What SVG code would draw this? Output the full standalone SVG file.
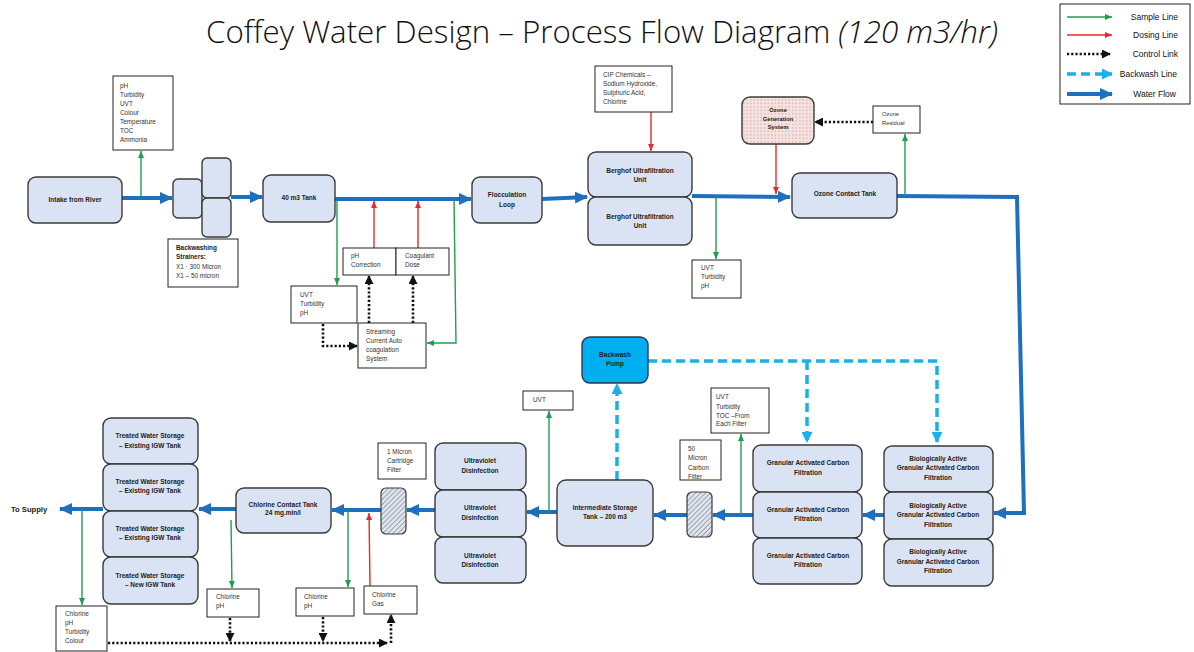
<svg xmlns="http://www.w3.org/2000/svg" width="1194" height="652" viewBox="0 0 1194 652">
<defs>
<style>
.n{fill:#dae3f3;stroke:#3a3a3a;stroke-width:1.4}
.b{fill:#fff;stroke:#222;stroke-width:1}
.t{font-family:"Liberation Sans",Arial,sans-serif;font-size:6.4px;fill:#333}
.tb{font-family:"Liberation Sans",Arial,sans-serif;font-size:6.5px;font-weight:bold;fill:#222;text-anchor:middle}
.lg{font-family:"Liberation Sans",Arial,sans-serif;font-size:8.5px;fill:#111;text-anchor:end}
.wf{fill:none;stroke:#1f6fbf;stroke-width:4}
.sm{fill:none;stroke:#1e9e50;stroke-width:1.4}
.ds{fill:none;stroke:#e52b2b;stroke-width:1.4}
.ct{fill:none;stroke:#111;stroke-width:2.6;stroke-dasharray:2.2 2}
.bw{fill:none;stroke:#1ab0e8;stroke-width:3.5;stroke-dasharray:9 5}
</style>
<marker id="aw" markerUnits="userSpaceOnUse" markerWidth="13" markerHeight="12" refX="12" refY="6" orient="auto"><path d="M0,0 L13,6 L0,12 z" fill="#1f6fbf"/></marker>
<marker id="ag" markerUnits="userSpaceOnUse" markerWidth="7" markerHeight="6" refX="7" refY="3" orient="auto"><path d="M0,0 L7,3 L0,6 z" fill="#1e9e50"/></marker>
<marker id="ar" markerUnits="userSpaceOnUse" markerWidth="7" markerHeight="6" refX="7" refY="3" orient="auto"><path d="M0,0 L7,3 L0,6 z" fill="#e52b2b"/></marker>
<marker id="ak" markerUnits="userSpaceOnUse" markerWidth="9" markerHeight="9" refX="8" refY="4.5" orient="auto"><path d="M0,0 L9,4.5 L0,9 z" fill="#111"/></marker>
<marker id="ab" markerUnits="userSpaceOnUse" markerWidth="11" markerHeight="11" refX="10" refY="5.5" orient="auto"><path d="M0,0 L11,5.5 L0,11 z" fill="#1ab0e8"/></marker>
<pattern id="hatch" patternUnits="userSpaceOnUse" width="3.5" height="3.5" patternTransform="rotate(45)"><rect width="3.5" height="3.5" fill="#dfe5ee"/><line x1="0" y1="0" x2="0" y2="3.5" stroke="#5a6270" stroke-width="1"/></pattern>
<pattern id="dots" patternUnits="userSpaceOnUse" width="3.5" height="3.5"><rect width="3.5" height="3.5" fill="#f6e2e1"/><circle cx="1.75" cy="1.75" r="0.5" fill="#9a5050"/></pattern>
</defs>
<rect width="1194" height="652" fill="#fff"/>

<text x="206" y="43" font-family="'Open Sans','Liberation Sans',sans-serif" font-size="30.5" fill="#111" font-weight="300" textLength="792" lengthAdjust="spacingAndGlyphs">Coffey Water Design – Process Flow Diagram <tspan font-style="italic">(120 m3/hr)</tspan></text>

<g id="legend">
<rect x="1060" y="4" width="130" height="100" class="b"/>
<path d="M1067,17 L1112,17" class="sm" marker-end="url(#ag)"/>
<path d="M1067,35 L1112,35" class="ds" marker-end="url(#ar)"/>
<path d="M1067,54 L1110,54" class="ct" marker-end="url(#ak)"/>
<path d="M1067,74 L1112,74" class="bw" marker-end="url(#ab)"/>
<path d="M1067,94 L1112,94" class="wf" marker-end="url(#aw)"/>
<text x="1178" y="20" class="lg">Sample Line</text>
<text x="1178" y="38" class="lg">Dosing Line</text>
<text x="1178" y="57" class="lg">Control Link</text>
<text x="1177" y="77" class="lg">Backwash Line</text>
<text x="1176" y="97" class="lg">Water Flow</text>
</g>

<g id="connectors">
<path d="M122,198 L172,198" class="wf" marker-end="url(#aw)"/>
<path d="M231,197 L262,197" class="wf" marker-end="url(#aw)"/>
<path d="M335,199 L471,199" class="wf" marker-end="url(#aw)"/>
<path d="M542,199 L587,197" class="wf" marker-end="url(#aw)"/>
<path d="M692,196 L790,197" class="wf" marker-end="url(#aw)"/>
<path d="M897,196 L1017,197 L1024,513 L994,513" class="wf" marker-end="url(#aw)"/>
<path d="M884,515 L863,515" class="wf" marker-end="url(#aw)"/>
<path d="M753,515 L713,515" class="wf" marker-end="url(#aw)"/>
<path d="M687,515 L654,515" class="wf" marker-end="url(#aw)"/>
<path d="M557,512 L527,512" class="wf" marker-end="url(#aw)"/>
<path d="M435,510 L407,510" class="wf" marker-end="url(#aw)"/>
<path d="M381,510 L332,510" class="wf" marker-end="url(#aw)"/>
<path d="M236,509 L199,509" class="wf" marker-end="url(#aw)"/>
<path d="M103,509 L60,509" class="wf" marker-end="url(#aw)"/>

<path d="M141,198 L141,151" class="sm" marker-end="url(#ag)"/>
<path d="M337,200 L337,285" class="sm" marker-end="url(#ag)"/>
<path d="M454,199 L456,343 L427,343" class="sm" marker-end="url(#ag)"/>
<path d="M716,196 L716,259" class="sm" marker-end="url(#ag)"/>
<path d="M905,196 L905,134" class="sm" marker-end="url(#ag)"/>
<path d="M741,515 L741,434" class="sm" marker-end="url(#ag)"/>
<path d="M549,512 L549,411" class="sm" marker-end="url(#ag)"/>
<path d="M348,510 L348,587" class="sm" marker-end="url(#ag)"/>
<path d="M231,520 L232,588" class="sm" marker-end="url(#ag)"/>
<path d="M82,509 L82,605" class="sm" marker-end="url(#ag)"/>

<path d="M374,248 L374,201" class="ds" marker-end="url(#ar)"/>
<path d="M418,248 L418,201" class="ds" marker-end="url(#ar)"/>
<path d="M651,112 L651,151" class="ds" marker-end="url(#ar)"/>
<path d="M776,144 L776,194" class="ds" marker-end="url(#ar)"/>
<path d="M370,586 L369,513" class="ds" marker-end="url(#ar)"/>

<path d="M369,323 L369,276" class="ct" marker-end="url(#ak)"/>
<path d="M413,323 L413,276" class="ct" marker-end="url(#ak)"/>
<path d="M323,324 L323,346 L357,346" class="ct" marker-end="url(#ak)"/>
<path d="M873,122 L815,122" class="ct" marker-end="url(#ak)"/>
<path d="M230,618 L230,641" class="ct" marker-end="url(#ak)"/>
<path d="M323,617 L323,641" class="ct" marker-end="url(#ak)"/>
<path d="M108,643 L387,643" class="ct" marker-end="url(#ak)"/>
<path d="M391,643 L391,615" class="ct" marker-end="url(#ak)"/>

<path d="M617,480 L617,384" class="bw" marker-end="url(#ab)"/>
<path d="M648,361 L937,361 L937,442" class="bw" marker-end="url(#ab)"/>
<path d="M807,361 L807,442" class="bw" marker-end="url(#ab)"/>
</g>

<g id="intake"><rect x="28" y="177" width="94" height="46" rx="8" class="n"/><text x="75" y="202" class="tb">Intake from River</text></g>
<g id="sample-intake"><rect x="113" y="76" width="60" height="74" class="b"/>
<text class="t"><tspan x="120" y="88">pH</tspan><tspan x="120" y="97">Turbidity</tspan><tspan x="120" y="106">UVT</tspan><tspan x="120" y="115">Colour</tspan><tspan x="120" y="124">Temperature</tspan><tspan x="120" y="133">TOC</tspan><tspan x="120" y="142">Ammonia</tspan></text></g>
<g id="strainers">
<rect x="173" y="179" width="29" height="39" rx="5" class="n"/>
<rect x="202" y="158" width="29" height="40" rx="5" class="n"/>
<rect x="202" y="198" width="29" height="39" rx="5" class="n"/>
</g>
<g id="strainer-label"><rect x="168" y="239" width="70" height="48" class="b"/>
<text class="t"><tspan x="176" y="250" font-weight="bold" fill="#222">Backwashing</tspan><tspan x="176" y="259" font-weight="bold" fill="#222">Strainers:</tspan><tspan x="176" y="269">X1 · 300 Micron</tspan><tspan x="176" y="278">X1 – 50 micron</tspan></text></g>

<g id="tank40"><rect x="263" y="175" width="72" height="47" rx="8" class="n"/><text x="299" y="200" class="tb">40 m3 Tank</text></g>
<g id="sample-40"><rect x="291" y="286" width="66" height="37" class="b"/>
<text class="t"><tspan x="300" y="297">UVT</tspan><tspan x="300" y="306">Turbidity</tspan><tspan x="300" y="315">pH</tspan></text></g>
<g id="ph-correction"><rect x="343" y="248" width="53" height="27" class="b"/>
<text class="t"><tspan x="351" y="258">pH</tspan><tspan x="351" y="267">Correction</tspan></text></g>
<g id="coagulant"><rect x="396" y="248" width="53" height="27" class="b"/>
<text class="t"><tspan x="405" y="258">Coagulant</tspan><tspan x="405" y="267">Dose</tspan></text></g>
<g id="streaming"><rect x="358" y="323" width="68" height="45" class="b"/>
<text class="t"><tspan x="366" y="334">Streaming</tspan><tspan x="366" y="343">Current Auto</tspan><tspan x="366" y="352">coagulation</tspan><tspan x="366" y="361">System</tspan></text></g>

<g id="flocculation"><rect x="472" y="177" width="70" height="46" rx="8" class="n"/>
<text class="tb"><tspan x="507" y="197">Flocculation</tspan><tspan x="507" y="207">Loop</tspan></text></g>
<g id="berghof1"><rect x="588" y="152" width="104" height="45" rx="8" class="n"/>
<text class="tb"><tspan x="640" y="173">Berghof Ultrafiltration</tspan><tspan x="640" y="182">Unit</tspan></text></g>
<g id="berghof2"><rect x="588" y="197" width="104" height="48" rx="8" class="n"/>
<text class="tb"><tspan x="640" y="219">Berghof Ultrafiltration</tspan><tspan x="640" y="228">Unit</tspan></text></g>
<g id="cip"><rect x="595" y="66" width="77" height="46" class="b"/>
<text class="t"><tspan x="603" y="77">CIP Chemicals –</tspan><tspan x="603" y="86">Sodium Hydroxide,</tspan><tspan x="603" y="95">Sulphuric Acid,</tspan><tspan x="603" y="104">Chlorine</tspan></text></g>
<g id="sample-uf"><rect x="692" y="260" width="49" height="38" class="b"/>
<text class="t"><tspan x="701" y="270">UVT</tspan><tspan x="701" y="279">Turbidity</tspan><tspan x="701" y="288">pH</tspan></text></g>

<g id="ozone-gen"><rect x="742" y="97" width="72" height="47" rx="8" fill="url(#dots)" stroke="#3a3a3a" stroke-width="1.4"/>
<text class="tb" style="font-size:5.8px;fill:#222"><tspan x="778" y="112">Ozone</tspan><tspan x="778" y="120.5">Generation</tspan><tspan x="778" y="129">System</tspan></text></g>
<g id="ozone-residual"><rect x="873" y="106" width="47" height="27" class="b"/>
<text class="t" style="font-size:5.8px"><tspan x="882" y="116">Ozone</tspan><tspan x="882" y="125">Residual</tspan></text></g>
<g id="ozone-contact"><rect x="792" y="173" width="105" height="45" rx="8" class="n"/><text x="845" y="196" class="tb">Ozone Contact Tank</text></g>

<g id="bac1"><rect x="884" y="446" width="109" height="46" rx="8" class="n"/>
<text class="tb"><tspan x="938" y="461">Biologically Active</tspan><tspan x="938" y="470">Granular Activated Carbon</tspan><tspan x="938" y="480">Filtration</tspan></text></g>
<g id="bac2"><rect x="884" y="492" width="109" height="47" rx="8" class="n"/>
<text class="tb"><tspan x="938" y="508">Biologically Active</tspan><tspan x="938" y="517">Granular Activated Carbon</tspan><tspan x="938" y="527">Filtration</tspan></text></g>
<g id="bac3"><rect x="884" y="539" width="109" height="47" rx="8" class="n"/>
<text class="tb"><tspan x="938" y="554">Biologically Active</tspan><tspan x="938" y="564">Granular Activated Carbon</tspan><tspan x="938" y="573">Filtration</tspan></text></g>

<g id="gac1"><rect x="753" y="445" width="109" height="47" rx="8" class="n"/>
<text class="tb"><tspan x="808" y="465">Granular Activated Carbon</tspan><tspan x="808" y="475">Filtration</tspan></text></g>
<g id="gac2"><rect x="753" y="492" width="109" height="46" rx="8" class="n"/>
<text class="tb"><tspan x="808" y="512">Granular Activated Carbon</tspan><tspan x="808" y="521">Filtration</tspan></text></g>
<g id="gac3"><rect x="753" y="538" width="109" height="46" rx="8" class="n"/>
<text class="tb"><tspan x="808" y="558">Granular Activated Carbon</tspan><tspan x="808" y="567">Filtration</tspan></text></g>

<g id="backwash-pump"><rect x="582" y="337" width="66" height="46" rx="8" fill="#00aff0" stroke="#2a3a4a" stroke-width="1.4"/>
<text class="tb"><tspan x="615" y="357">Backwash</tspan><tspan x="615" y="366">Pump</tspan></text></g>

<g id="sample-gac"><rect x="711" y="388" width="58" height="45" class="b"/>
<text class="t"><tspan x="716" y="399">UVT</tspan><tspan x="716" y="409">Turbidity</tspan><tspan x="716" y="418">TOC –From</tspan><tspan x="716" y="426">Each Filter</tspan></text></g>
<g id="label-50"><rect x="680" y="440" width="41" height="40" class="b"/>
<text class="t"><tspan x="688" y="451">50</tspan><tspan x="688" y="460">Micron</tspan><tspan x="688" y="470">Carbon</tspan><tspan x="688" y="479">Filter</tspan></text></g>
<g id="filter-50"><rect x="687" y="492" width="25" height="45" rx="5" fill="url(#hatch)" stroke="#3a3a3a" stroke-width="1.2"/></g>

<g id="intermediate"><rect x="557" y="480" width="96" height="66" rx="9" class="n"/>
<text class="tb"><tspan x="605" y="510">Intermediate Storage</tspan><tspan x="605" y="519">Tank – 200 m3</tspan></text></g>
<g id="sample-uv"><rect x="523" y="391" width="50" height="19" class="b"/><text x="533" y="402" class="t">UVT</text></g>

<g id="uv1"><rect x="435" y="443" width="91" height="47" rx="8" class="n"/>
<text class="tb"><tspan x="480" y="463">Ultraviolet</tspan><tspan x="480" y="473">Disinfection</tspan></text></g>
<g id="uv2"><rect x="435" y="490" width="91" height="47" rx="8" class="n"/>
<text class="tb"><tspan x="480" y="510">Ultraviolet</tspan><tspan x="480" y="520">Disinfection</tspan></text></g>
<g id="uv3"><rect x="435" y="537" width="91" height="46" rx="8" class="n"/>
<text class="tb"><tspan x="480" y="558">Ultraviolet</tspan><tspan x="480" y="567">Disinfection</tspan></text></g>

<g id="label-1"><rect x="378" y="443" width="48" height="36" class="b"/>
<text class="t"><tspan x="387" y="454">1 Micron</tspan><tspan x="387" y="463">Cartridge</tspan><tspan x="387" y="472">Filter</tspan></text></g>
<g id="filter-1"><rect x="381" y="488" width="25" height="46" rx="5" fill="url(#hatch)" stroke="#3a3a3a" stroke-width="1.2"/></g>

<g id="chlorine-contact"><rect x="236" y="488" width="95" height="45" rx="8" class="n"/>
<text class="tb"><tspan x="283" y="507">Chlorine Contact Tank</tspan><tspan x="283" y="515">24 mg.min/l</tspan></text></g>
<g id="sample-cl1"><rect x="207" y="589" width="52" height="28" class="b"/>
<text class="t"><tspan x="216" y="599">Chlorine</tspan><tspan x="216" y="608">pH</tspan></text></g>
<g id="sample-cl2"><rect x="296" y="588" width="58" height="28" class="b"/>
<text class="t"><tspan x="304" y="599">Chlorine</tspan><tspan x="304" y="608">pH</tspan></text></g>
<g id="chlorine-gas"><rect x="364" y="586" width="53" height="28" class="b"/>
<text class="t"><tspan x="372" y="597">Chlorine</tspan><tspan x="372" y="606">Gas</tspan></text></g>

<g id="tws1"><rect x="103" y="418" width="95" height="46" rx="8" class="n"/>
<text class="tb"><tspan x="150" y="438">Treated Water Storage</tspan><tspan x="150" y="448">– Existing IGW Tank</tspan></text></g>
<g id="tws2"><rect x="103" y="464" width="95" height="47" rx="8" class="n"/>
<text class="tb"><tspan x="150" y="484">Treated Water Storage</tspan><tspan x="150" y="493">– Existing IGW Tank</tspan></text></g>
<g id="tws3"><rect x="103" y="511" width="95" height="46" rx="8" class="n"/>
<text class="tb"><tspan x="150" y="531">Treated Water Storage</tspan><tspan x="150" y="540">– Existing IGW Tank</tspan></text></g>
<g id="tws4"><rect x="103" y="557" width="95" height="47" rx="8" class="n"/>
<text class="tb"><tspan x="150" y="578">Treated Water Storage</tspan><tspan x="150" y="587">– New IGW Tank</tspan></text></g>

<g id="supply"><text x="11" y="512" font-family="'Liberation Sans',Arial,sans-serif" font-size="7.6" font-weight="bold" fill="#222">To Supply</text></g>
<g id="sample-supply"><rect x="56" y="606" width="51" height="45" class="b"/>
<text class="t"><tspan x="65" y="616">Chlorine</tspan><tspan x="65" y="625">pH</tspan><tspan x="65" y="634">Turbidity</tspan><tspan x="65" y="643">Colour</tspan></text></g>
</svg>
